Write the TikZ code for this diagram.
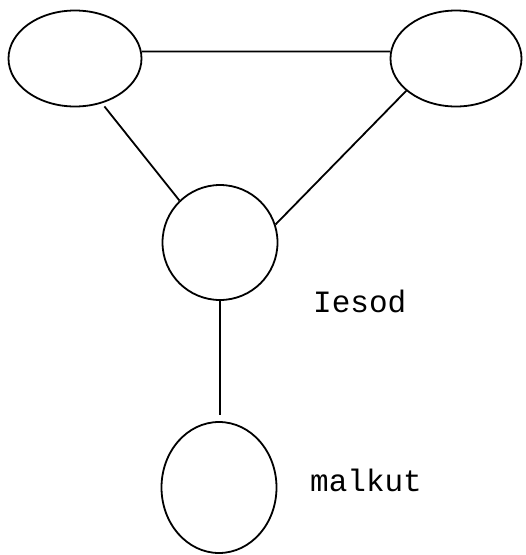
\documentclass[tikz,border=0pt]{standalone}
\usepackage{fontspec}
\setmonofont{Liberation Mono}
\usetikzlibrary{shapes.geometric}
\begin{document}
\begin{tikzpicture}[x=1pt,y=-1pt,
  sef/.style={draw, ellipse, line width=1.8pt, inner sep=0pt},
  conn/.style={line width=1.8pt},
  lbl/.style={anchor=base west, inner sep=0pt, font=\ttfamily\fontsize{31}{31}\selectfont}]
\useasboundingbox (0,0) rectangle (526,555);
\node[sef, minimum width=133pt, minimum height=96pt] (L) at (75,58.5) {};
\node[sef, minimum width=131pt, minimum height=96pt] (R) at (456,58.5) {};
\node[sef, minimum width=115pt, minimum height=115pt] (M) at (220,242.5) {};
\node[sef, minimum width=115pt, minimum height=131pt] (B) at (219,487.5) {};
\draw[conn] (L.6) -- (R.174);
\draw[conn, shorten <=4pt] (L.-59) -- (M.134);
\draw[conn] (R.213) -- (M.18);
\draw[conn, shorten >=6pt] (M.south) -- (M.south |- B.north);
\node[lbl] (t1) at (313,312) {Iesod};
\node[lbl] (t2) at (310,491) {malkut};
\end{tikzpicture}
\end{document}
